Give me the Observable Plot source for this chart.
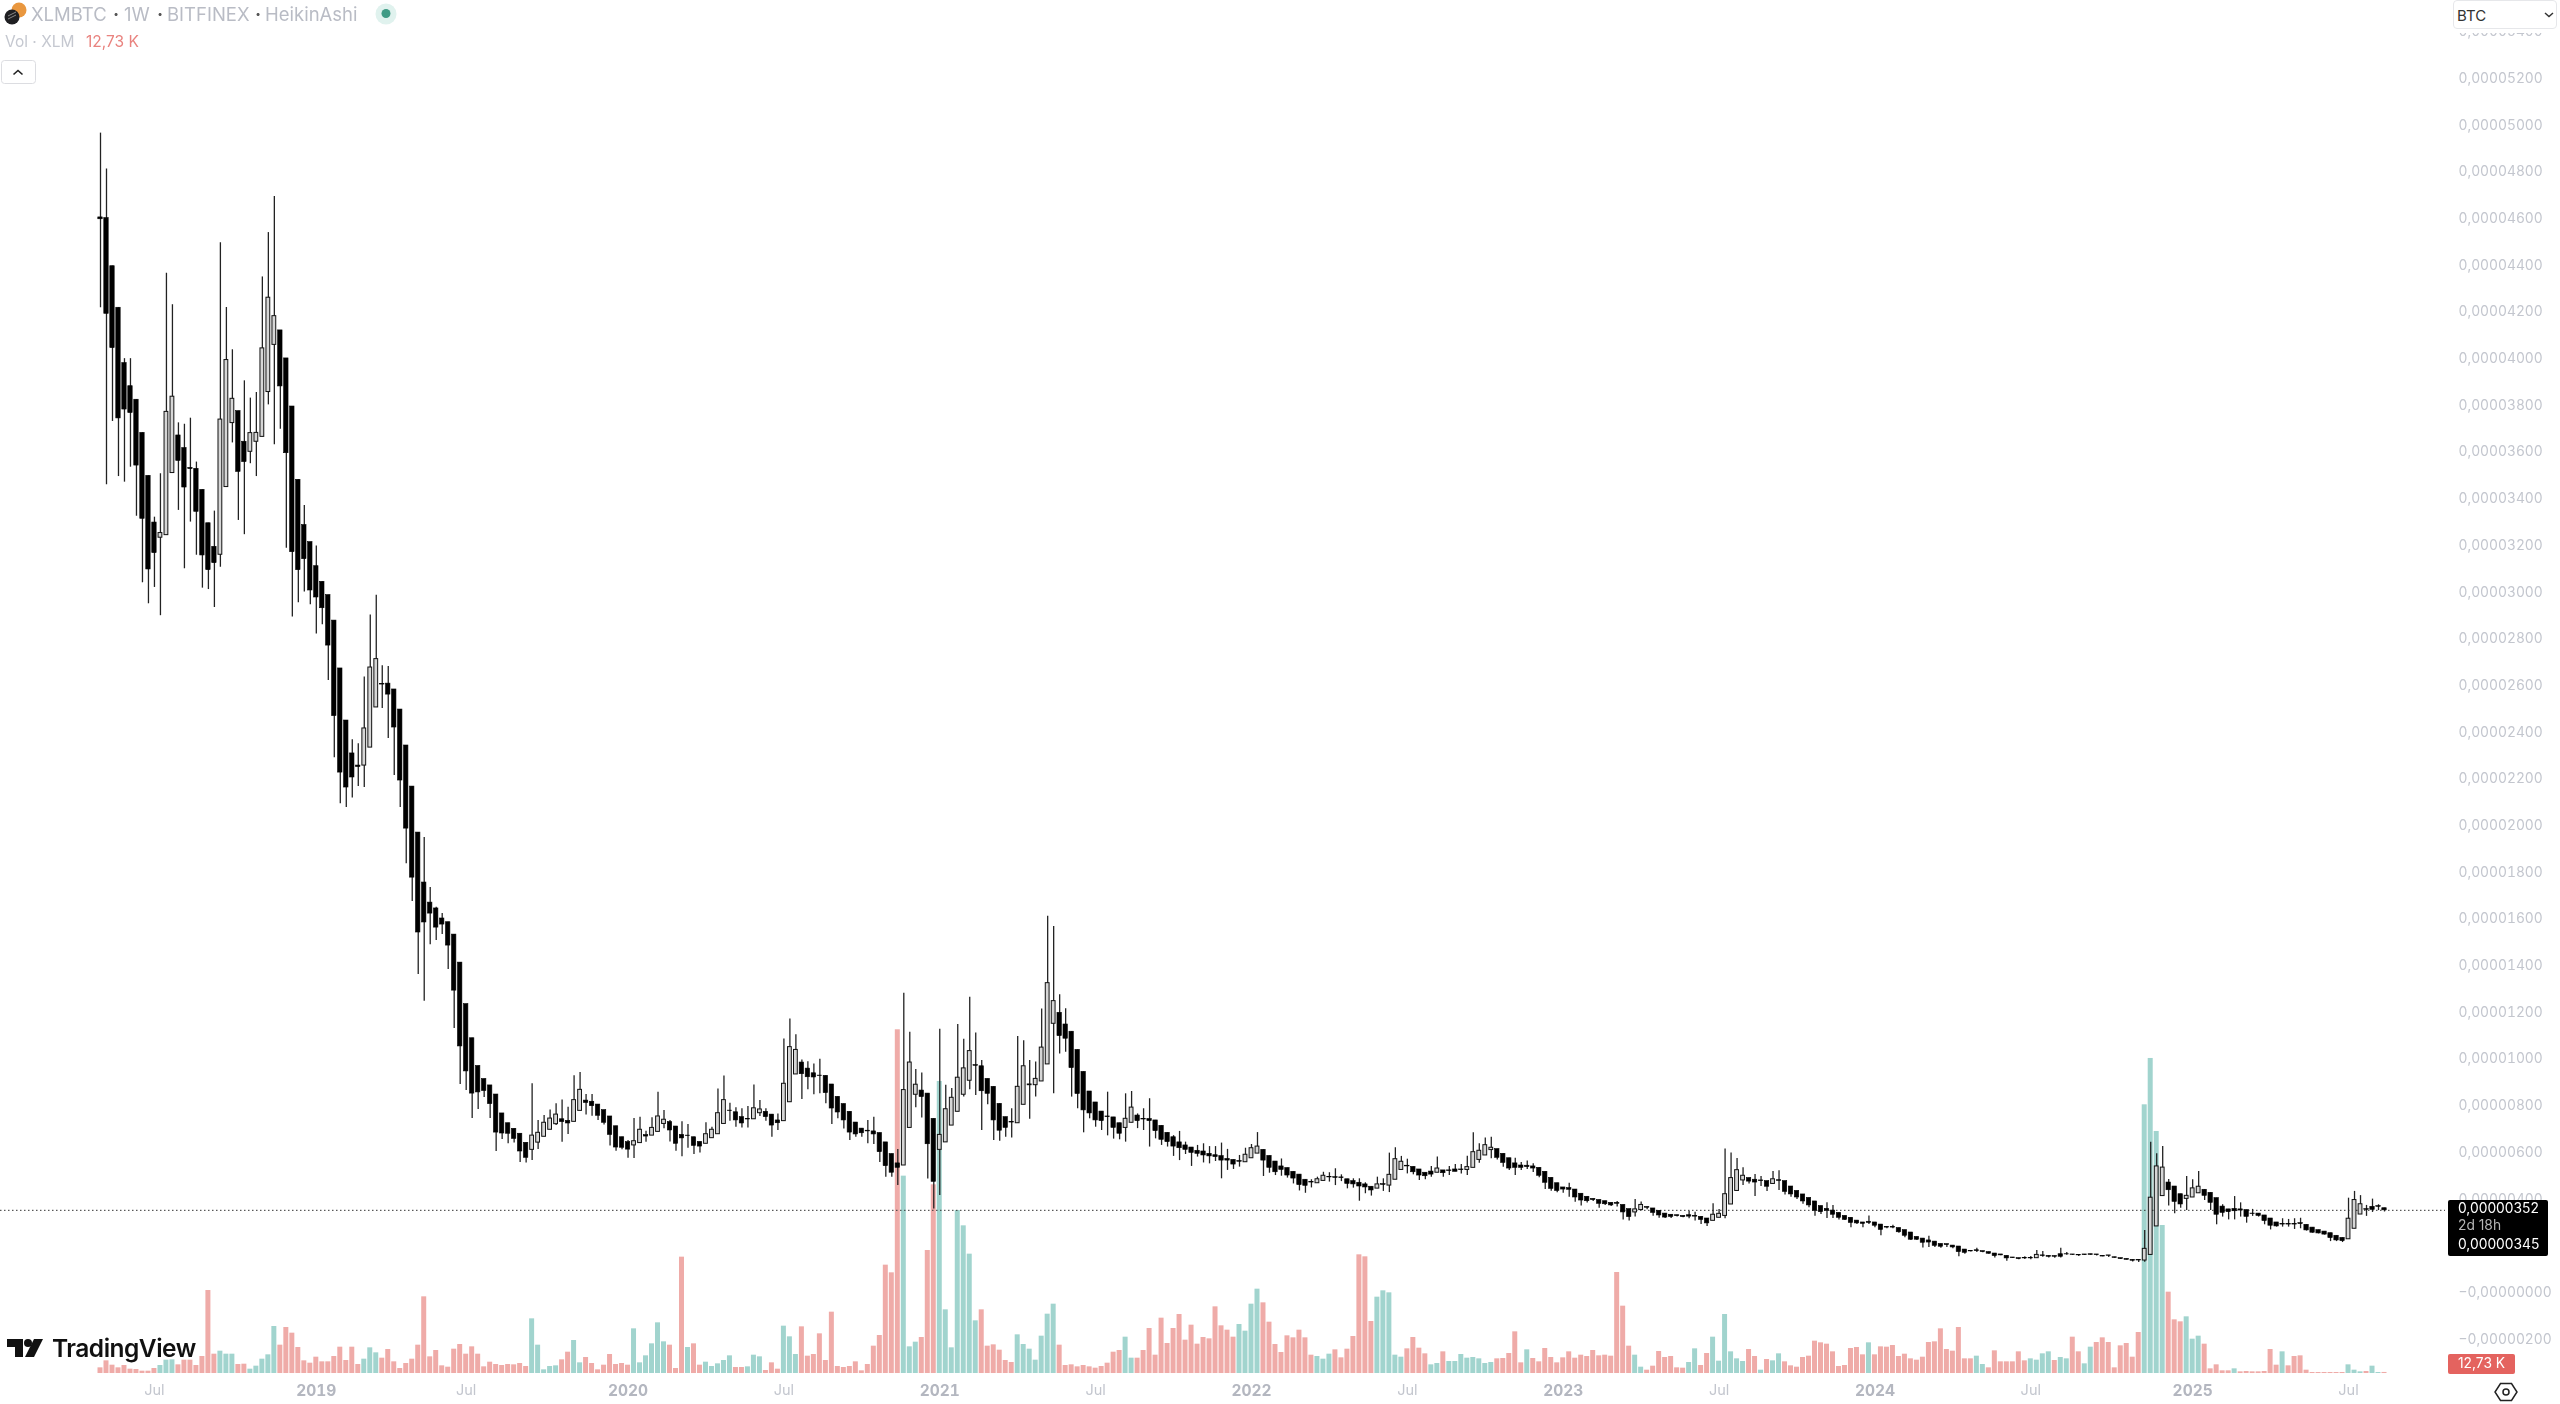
<!DOCTYPE html>
<html><head><meta charset="utf-8">
<style>
html,body{margin:0;padding:0;background:#fff;width:2560px;height:1404px;overflow:hidden;font-family:Inter,"Noto Sans",sans-serif}
#chart{position:absolute;left:0;top:0}
#page{position:absolute;left:0;top:0;width:2560px;height:1404px;filter:blur(0.45px)}
.t{position:absolute;white-space:pre;line-height:1}
</style>
<script src="https://cdn.jsdelivr.net/npm/d3@7"></script>
<script src="https://cdn.jsdelivr.net/npm/@observablehq/plot@0.6"></script>
</head><body><div id="page">
<div id="chart"></div>
<svg style="position:absolute;left:0;top:0" width="30" height="30"><circle cx="19" cy="10" r="7.5" fill="#e9973f"/><circle cx="12" cy="17" r="7.5" fill="#1f1f22"/><path d="M8 19l8-4M8 16l8-4" stroke="#888" stroke-width="1"/></svg>
<div class="t" style="left:31px;top:5px;font-size:18.5px;color:#b9bcc5">XLMBTC</div>
<div class="t" style="left:113px;top:5px;font-size:18.5px;font-weight:700;color:#555">·</div>
<div class="t" style="left:124px;top:5px;font-size:18.5px;color:#b9bcc5">1W</div>
<div class="t" style="left:157px;top:5px;font-size:18.5px;font-weight:700;color:#555">·</div>
<div class="t" style="left:167px;top:5px;font-size:18.5px;color:#b9bcc5">BITFINEX</div>
<div class="t" style="left:255px;top:5px;font-size:18.5px;font-weight:700;color:#555">·</div>
<div class="t" style="left:265px;top:5px;font-size:18.5px;color:#b9bcc5">HeikinAshi</div>
<svg style="position:absolute;left:375px;top:3px" width="22" height="22"><circle cx="11" cy="11" r="10.5" fill="#e0f2ee"/><circle cx="11" cy="10.5" r="4.5" fill="#3f9b85"/></svg>
<div class="t" style="left:5px;top:34px;font-size:15.5px;color:#c5c8d0">Vol · XLM</div>
<div class="t" style="left:86px;top:34px;font-size:15.5px;color:#e9837f">12,73 K</div>
<svg style="position:absolute;left:0;top:59px" width="38" height="27"><rect x="1.5" y="1.5" width="34" height="23" rx="3" fill="#fff" stroke="#dcdde1"/><path d="M13.5 15.5l4.5-4 4.5 4" fill="none" stroke="#222" stroke-width="1.6"/></svg>
<div style="position:absolute;left:2447px;top:0;width:113px;height:33px;background:#fff"></div>
<div style="position:absolute;left:2453px;top:0;width:104px;height:29px;background:#fff;border:1px solid #e6e7ea;border-radius:4px;box-sizing:border-box"></div>
<div class="t" style="left:2457px;top:8px;font-size:15px;color:#333">BTC</div>
<svg style="position:absolute;left:2543px;top:10px" width="12" height="10"><path d="M2 3l4 3.500 4-3.500" fill="none" stroke="#333" stroke-width="1.500"/></svg>
<div style="position:absolute;left:2448px;top:1200px;width:100px;height:56px;background:#000;border-radius:2px"></div>
<div class="t" style="left:2458px;top:1202px;font-size:13.8px;color:#fff">0,00000352</div>
<div class="t" style="left:2458px;top:1219px;font-size:13.8px;color:#b6b6b6">2d 18h</div>
<div class="t" style="left:2458px;top:1238px;font-size:13.8px;color:#fff">0,00000345</div>
<div style="position:absolute;left:2448px;top:1354px;width:67px;height:20px;background:#e4635f;border-radius:2px"></div>
<div class="t" style="left:2458px;top:1357px;font-size:13.8px;color:#fff">12,73 K</div>
<svg style="position:absolute;left:2493px;top:1380px" width="26" height="24"><path d="M7.500 3.500h11l5.500 8.500-5.500 8.500h-11L2 12z" fill="none" stroke="#222" stroke-width="1.500"/><circle cx="13" cy="12" r="3" fill="none" stroke="#222" stroke-width="1.500"/></svg>
<svg style="position:absolute;left:7px;top:1339px" width="37" height="19"><path d="M0 0H16V18H8V8H0Z" fill="#111"/><circle cx="21" cy="4" r="4" fill="#111"/><path d="M27 0H36L27 18H18Z" fill="#111"/></svg>
<div class="t" style="left:52px;top:1336px;font-size:24.5px;font-weight:600;letter-spacing:-.5px;color:#111">TradingView</div>
</div>
<script>
const bodyTop = [
4605,4602,4396,4218,3981,3882,3824,3682,3498,3298,
3253,3772,3837,3671,3617,3532,3528,3438,3295,3194,
3739,3994,3828,3775,3644,3681,3682,4044,4261,4182,
4121,4001,3795,3481,3287,3214,3111,3044,2987,2878,
2673,2450,2309,2257,2416,2677,2713,2607,2608,2583,
2497,2343,2167,1970,1756,1670,1645,1602,1586,1533,
1413,1235,1089,970,914,887,848,767,725,701,
680,641,672,684,727,745,762,742,735,824,
868,822,817,805,781,754,712,665,644,648,
697,674,705,754,740,730,711,675,672,665,
645,678,697,768,824,779,772,751,744,789,
784,774,762,737,894,1051,1039,985,959,939,
929,928,891,838,807,774,728,702,693,690,
683,643,593,553,867,985,890,865,852,744,
675,785,834,920,960,1034,974,969,915,881,
808,751,731,881,969,891,915,1049,1325,1248,
1198,1148,1117,1039,945,861,814,775,754,750,
725,744,792,758,744,743,737,714,684,665,
643,630,621,607,604,594,588,584,572,568,
563,590,618,625,611,585,561,540,533,517,
505,483,474,485,500,495,494,493,485,477,
470,463,453,463,464,504,571,560,543,538,
527,513,518,531,523,523,527,527,537,601,
607,631,620,614,594,575,553,544,543,540,
534,517,491,468,450,447,441,423,410,401,
396,391,384,384,375,357,356,375,366,360,
350,338,333,331,328,331,328,324,317,333,
337,421,490,524,500,490,483,480,477,485,
481,477,454,435,420,405,390,370,358,351,
341,328,320,308,300,303,300,291,281,281,
276,267,257,238,231,223,218,208,207,201,
197,184,178,181,177,173,167,163,157,150,
147,148,148,161,159,157,156,164,164,163,
161,163,164,163,157,159,151,147,144,140,
139,187,406,540,535,471,454,421,414,446,
453,440,427,404,368,356,358,356,353,338,
338,330,317,300,294,294,294,297,290,278,
267,261,254,243,234,316,396,378,357,367,370,361];
const bodyBottom = [
4597,4192,4045,3744,3782,3767,3542,3314,3097,3167,
3233,3244,3510,3562,3448,3527,3344,3157,3094,3124,
3160,3450,3724,3515,3557,3601,3644,3665,3857,4059,
3881,3595,3171,3094,3141,3007,2977,2931,2771,2469,
2227,2163,2206,2251,2257,2334,2506,2604,2561,2420,
2193,1987,1777,1542,1585,1623,1563,1576,1486,1293,
1054,947,852,857,863,807,685,681,680,658,
604,577,611,642,667,697,721,730,724,731,
778,812,798,757,727,675,621,620,612,630,
640,668,672,688,722,694,637,660,670,628,
625,637,661,678,722,777,737,724,741,742,
768,751,715,725,734,815,934,935,922,921,
927,854,788,771,737,685,677,682,690,677,
601,541,513,534,544,705,847,837,635,474,
611,643,715,774,847,907,971,862,851,737,
693,705,728,725,804,888,888,904,977,1151,
1098,1087,961,850,780,767,737,734,751,705,
680,705,727,734,741,734,691,654,644,625,
618,611,598,594,587,583,580,565,565,548,
560,558,575,595,565,534,515,525,501,488,
460,457,471,468,478,493,491,490,465,463,
454,450,437,445,461,458,483,525,540,515,
501,498,505,513,511,520,517,524,525,534,
568,587,610,577,555,531,534,534,537,531,
500,470,444,435,441,440,407,394,391,396,
380,378,373,380,343,323,343,353,363,341,
330,321,324,327,323,325,325,311,296,307,
320,328,377,435,480,475,471,477,453,465,
478,431,420,407,390,373,350,344,350,333,
320,311,298,296,294,298,286,268,278,278,
258,243,226,226,213,214,200,196,203,193,
173,170,176,177,173,166,156,159,146,147,
143,146,146,147,156,153,153,153,163,161,
159,160,161,160,154,157,148,143,140,136,
137,137,161,283,413,438,388,377,401,407,
425,414,384,333,341,344,348,351,324,336,
328,306,286,283,291,291,291,293,266,256,
253,248,233,223,220,228,273,334,354,354,367,352];
const highs = [
4966,4812,4396,4218,4000,4000,3824,3682,3498,3321,
3507,4366,4231,3725,3719,3745,3557,3438,3295,3347,
4496,4219,4038,3775,3905,3831,3855,4350,4540,4695,
4121,4001,3795,3481,3371,3214,3197,3044,2987,2878,
2673,2450,2368,2351,2636,2902,2987,2685,2681,2583,
2497,2343,2167,1970,1949,1735,1650,1623,1586,1533,
1413,1235,1089,970,914,887,848,767,725,701,
680,641,894,737,758,782,808,825,794,928,
942,848,848,805,781,754,712,665,651,745,
751,691,748,858,780,737,711,731,720,665,
645,727,708,872,927,811,791,787,797,889,
822,787,762,765,1086,1171,1104,996,988,979,
999,928,891,838,807,774,728,702,737,751,
683,643,593,613,1282,1115,955,940,852,744,
1128,888,874,1148,1085,1265,1111,994,915,881,
808,751,787,1097,1078,994,987,1214,1612,1568,
1275,1215,1117,1039,945,861,814,775,858,750,
725,851,861,765,787,830,737,714,684,672,
690,644,621,630,637,625,625,640,613,568,
587,618,634,685,611,585,561,572,533,517,
505,483,483,494,515,513,530,504,485,487,
487,470,453,494,487,597,620,583,571,538,
527,513,540,580,523,540,548,548,584,684,
637,662,665,614,594,575,575,557,563,551,
534,517,491,468,450,468,441,423,410,401,
396,391,384,390,375,357,398,388,366,360,
350,338,333,331,328,348,344,324,317,380,
355,615,597,574,534,490,505,497,477,518,
522,477,454,435,420,405,390,370,384,373,
341,328,320,308,300,328,300,291,281,288,
276,267,257,238,231,241,218,208,207,201,
197,184,178,190,177,173,167,163,157,150,
147,153,154,180,176,157,156,190,171,163,
161,163,164,163,157,159,151,147,144,140,
139,266,644,594,625,484,454,421,497,483,
518,440,427,404,376,356,411,384,353,356,
338,330,317,300,316,313,316,318,290,278,
267,261,254,243,234,404,433,415,373,400,376,361];
const lows = [
4218,3460,3731,3495,3471,3535,3325,3040,2950,3020,
2899,3243,3510,3350,3100,3300,3158,3017,3011,2934,
3107,3450,3639,3307,3246,3550,3495,3665,3802,3631,
3698,3188,2893,2954,3000,2946,2821,2860,2621,2291,
2094,2077,2118,2167,2163,2334,2506,2501,2373,2214,
2077,1837,1675,1362,1248,1490,1508,1533,1383,1131,
891,865,745,784,835,745,604,655,637,640,
557,555,565,612,667,697,715,644,677,731,
778,760,755,737,717,627,605,611,575,574,
640,644,672,688,701,645,605,582,618,591,
597,637,661,678,722,734,708,705,705,742,
754,734,665,694,734,815,934,827,868,847,
851,808,720,744,700,651,665,665,637,634,
557,494,494,458,544,705,791,747,486,358,
416,643,715,774,837,868,844,694,804,651,
648,665,662,725,804,742,837,904,977,851,
1022,1029,837,787,684,744,708,694,671,657,
654,644,727,702,694,623,658,630,623,583,
565,591,540,580,555,551,561,487,523,527,
537,558,575,595,497,511,501,498,490,465,
435,425,448,468,478,473,458,475,444,447,
391,423,413,445,433,428,483,525,508,504,
480,483,494,513,494,501,517,508,501,534,
554,587,573,568,537,523,501,523,527,514,
491,441,434,427,425,408,387,370,383,390,
361,373,368,366,311,306,323,353,354,327,
318,317,317,323,320,316,306,291,283,307,
320,316,377,435,458,465,411,454,433,463,
437,418,408,398,378,363,327,334,317,317,
311,308,277,291,277,291,277,243,273,273,
254,234,223,223,191,193,193,190,193,187,
153,164,173,171,170,164,148,157,134,146,
140,141,140,147,151,148,147,148,160,159,
154,159,160,156,153,150,147,141,139,131,
129,130,161,283,413,370,337,361,351,407,
425,394,351,290,323,311,311,323,297,326,
323,290,268,280,280,280,270,273,263,254,
251,246,218,218,214,228,273,334,326,343,351,345];
const volumeK = [
68,152,100,68,96,52,48,28,28,60,
96,160,164,104,160,160,96,204,996,232,
268,232,232,108,112,52,88,172,224,564,
340,552,484,312,152,124,196,140,140,204,
316,156,316,108,172,308,248,184,288,140,
60,120,172,340,920,200,276,92,76,292,
348,232,320,232,80,136,108,96,108,104,
120,84,656,340,44,84,92,164,256,396,
128,192,120,44,100,228,108,120,100,536,
128,212,356,608,380,340,60,1396,312,356,
100,136,84,116,156,212,72,72,80,220,
200,36,128,52,568,440,228,560,208,228,
476,156,736,84,72,84,140,32,108,328,
456,1300,1208,4124,2368,320,376,432,1476,2264,
3504,764,308,1956,1772,1432,632,764,328,344,
280,156,132,464,348,292,160,448,712,832,
340,96,104,80,96,80,64,84,124,256,
276,436,184,184,276,540,220,664,360,540,
708,400,580,352,432,416,800,572,520,436,
588,508,832,1012,848,616,348,252,452,428,
520,428,220,204,172,232,284,188,292,444,
1424,1400,624,916,992,968,220,196,296,432,
304,236,104,120,260,144,144,228,184,192,
176,120,132,176,180,240,500,128,284,180,
140,300,192,128,188,260,184,220,204,276,
212,220,208,1212,808,328,220,76,40,88,
264,192,204,68,64,132,296,96,240,436,
148,708,260,176,144,288,204,40,168,152,
236,140,92,76,192,208,388,368,352,260,
84,96,300,312,224,368,224,320,316,336,
204,232,176,160,196,372,380,536,288,268,
552,176,176,208,108,68,272,140,140,140,
260,152,176,160,236,260,156,192,176,436,
260,116,316,372,428,372,68,332,360,196,
492,3224,3780,2904,1776,976,644,620,680,412,
448,352,56,104,32,32,56,20,24,20,
20,24,288,100,260,92,204,212,40,12,
12,12,12,12,12,104,40,20,24,88,12,12.73];
const bullishCandles = [10,11,12,20,21,22,25,26,27,28,29,44,45,46,72,73,74,75,76,79,80,89,90,92,93,94,101,102,103,104,109,110,114,115,116,134,135,136,140,141,142,143,144,145,153,154,155,156,157,158,159,171,172,191,192,193,203,204,213,215,216,217,223,228,229,230,231,232,256,257,269,270,271,272,273,274,279,323,341,342,343,344,348,349,350,375,376,377];
const bullishVolumes = [10,11,12,20,21,22,25,26,27,28,29,44,45,46,72,73,74,75,76,79,80,89,90,91,92,93,94,98,101,102,103,104,105,108,109,110,114,115,116,134,135,136,140,141,142,143,144,145,146,153,154,155,156,157,158,159,171,172,190,191,192,193,203,204,205,213,214,215,216,217,222,223,225,226,227,228,229,230,231,232,238,256,257,265,266,269,270,271,272,273,274,277,279,280,295,313,314,322,323,324,325,327,328,331,332,341,342,343,344,348,349,350,356,364,375,376,377,379,380];
const priceTicks = d3.range(-200, 5401, 200);
const yearTicks = ["2019-01-07","2020-01-06","2021-01-04","2022-01-03","2023-01-02","2024-01-01","2025-01-06"].map(d => new Date(d));
const julyTicks = ["2018-07-02","2019-07-01","2020-07-06","2021-07-05","2022-07-04","2023-07-03","2024-07-01","2025-07-07"].map(d => new Date(d));
const lastPrice = 352;
const weeks = d3.utcMonday.range(new Date("2018-04-30"), new Date("2025-08-25"));

const upC = new Set(bullishCandles), upV = new Set(bullishVolumes);
const halfWeek = 3.5 * 864e5;
const bars = weeks.map((date, i) => ({
  date, i,
  from: new Date(+date - halfWeek), to: new Date(+date + halfWeek),
  top: bodyTop[i], bottom: bodyBottom[i], high: highs[i], low: lows[i],
  up: upC.has(i), vol: volumeK[i], volUp: upV.has(i)
}));
// The volume pane shares the price axis: 1K of volume maps onto a fixed span of price below zero.
const volBase = -347, volPerK = 0.357;
const volTop = v => volBase + v * volPerK;

const chart = Plot.plot({
  width: 2560, height: 1404,
  marginLeft: 0, marginRight: 115, marginTop: 0, marginBottom: 20,
  style: {background: "transparent", fontFamily: "Inter, 'Noto Sans', sans-serif", fontSize: "14.5px"},
  x: {type: "utc", domain: [weeks[0], weeks[weeks.length - 1]], range: [100, 2384]},
  y: {type: "linear", domain: [0, 5200], range: [1292, 78]},
  marks: [
    Plot.rect(bars, {x1: "from", x2: "to", y1: volBase, y2: d => volTop(d.vol),
      fill: d => d.volUp ? "#a1d4ce" : "#efaba8", insetLeft: 0.5, insetRight: 0.5}),
    Plot.ruleY([lastPrice], {stroke: "#333", strokeWidth: 1, strokeDasharray: "1.5 2.5"}),
    Plot.ruleX(bars, {x: "date", y1: "low", y2: "high", stroke: "#222", strokeWidth: 1.3}),
    Plot.rect(bars.filter(d => !d.up), {x1: "from", x2: "to", y1: "bottom", y2: "top",
      fill: "#000", stroke: "#000", strokeWidth: 0.6, insetLeft: 0.8, insetRight: 0.8}),
    Plot.rect(bars.filter(d => d.up), {x1: "from", x2: "to", y1: "bottom", y2: "top",
      fill: "#d6d6d6", stroke: "#111", strokeWidth: 1, insetLeft: 1.1, insetRight: 1.1}),
    Plot.axisY({anchor: "right", ticks: priceTicks, tickSize: 0, tickPadding: 13, color: "#c3c6ce", label: null, fontSize: 13.8,
      tickFormat: v => (v <= 0 ? "\u2212" : "") + (Math.abs(v) / 1e8).toFixed(8).replace(".", ",")}),
    Plot.axisX({ticks: yearTicks, tickFormat: "%Y", tickSize: 0, tickPadding: 0, color: "#b4b7c0", fontWeight: "bold", fontSize: 15.5, label: null}),
    Plot.axisX({ticks: julyTicks, tickFormat: "%b", tickSize: 0, tickPadding: 0, color: "#c3c6ce", fontSize: 14.5, label: null})
  ]
});
document.getElementById("chart").appendChild(chart);
</script>
</body></html>
